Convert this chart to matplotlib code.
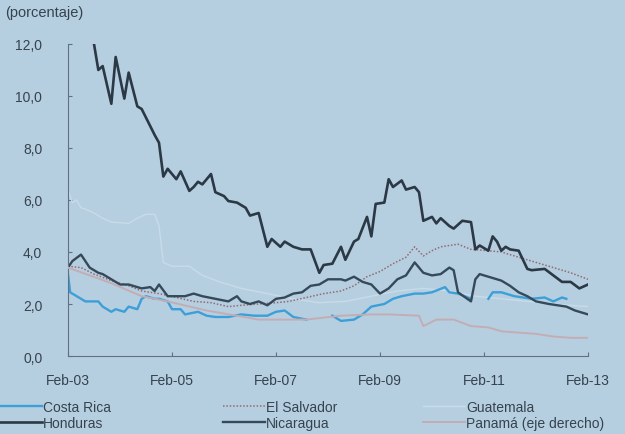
import numpy as np
import matplotlib.pyplot as plt

nan = np.nan

# months counted from Feb-03
tick_months = [0, 24, 48, 72, 96, 120]
tick_labels = ['Feb-03', 'Feb-05', 'Feb-07', 'Feb-09', 'Feb-11', 'Feb-13']
y_ticks = [0, 2, 4, 6, 8, 10, 12]

honduras_m = [6, 7, 8, 10, 11, 13, 14, 16, 17, 20, 21, 22, 23, 25, 26, 28, 29, 30, 31, 33, 34, 36, 37,
              39, 41, 42, 44, 46, 47, 49, 50, 52, 54, 56, 58, 59, 61, 63, 64, 66, 67, 69, 70, 71, 73, 74,
              75, 77, 78, 80, 81, 82, 84, 85, 86, 88, 89, 91, 93, 94, 95, 97, 98, 99, 100, 101, 102, 104,
              106, 107, 110, 112, 114, 116, 118, 120]
honduras_v = [12.0, 11.0, 11.15, 9.7, 11.5, 9.9, 10.9, 9.6, 9.5, 8.5, 8.2, 6.9, 7.2, 6.8, 7.1, 6.35, 6.5,
              6.7, 6.6, 7.0, 6.3, 6.15, 5.96, 5.9, 5.7, 5.4, 5.5, 4.2, 4.5, 4.2, 4.4, 4.2, 4.1, 4.1, 3.2,
              3.5, 3.55, 4.2, 3.7, 4.4, 4.5, 5.35, 4.6, 5.85, 5.9, 6.8, 6.5, 6.75, 6.4, 6.5, 6.3, 5.2,
              5.35, 5.1, 5.3, 5.0, 4.9, 5.2, 5.15, 4.1, 4.25, 4.05, 4.6, 4.4, 4.05, 4.2, 4.1, 4.05, 3.35,
              3.3, 3.35, 3.1, 2.85, 2.85, 2.6, 2.75]

nicaragua_m = [0, 1, 3, 5, 7, 8, 10, 12, 14, 16, 17, 19, 20, 21, 23, 24, 27, 29, 31, 34, 37, 39, 40, 42,
               44, 46, 48, 50, 52, 54, 56, 58, 60, 63, 64, 66, 68, 70, 72, 74, 76, 78, 80, 81, 82, 84,
               86, 88, 89, 90, 93, 94, 95, 97, 100, 102, 104, 106, 108, 111, 113, 115, 117, 120]
nicaragua_v = [3.4, 3.65, 3.9, 3.4, 3.2, 3.15, 2.95, 2.75, 2.75, 2.65, 2.6, 2.65, 2.5, 2.75, 2.3, 2.3,
               2.3, 2.4, 2.3, 2.2, 2.1, 2.3, 2.1, 2.0, 2.1, 1.95, 2.2, 2.25, 2.4, 2.45, 2.7, 2.75, 2.95,
               2.95, 2.9, 3.05, 2.85, 2.75, 2.4, 2.6, 2.95, 3.1, 3.6, 3.4, 3.2, 3.1, 3.15, 3.4, 3.3,
               2.45, 2.1, 2.95, 3.15, 3.05, 2.9, 2.7, 2.45, 2.3, 2.1, 2.0, 1.95, 1.9, 1.75, 1.6]

costa_rica_m = [0, 0.5, 2, 4, 7, 8, 10, 11, 13, 14, 16, 17, 18, 20, 21, 23, 24, 26, 27, 30, 32, 34, 37,
                40, 43, 46, 48, 50, 52, 55, 58, 61, 63, 66, 68, 70, 73, 75, 77, 80, 82, 84, 87, 88, 90,
                93, 95, 97, 98, 100, 103, 105, 107, 110, 112, 114, 115]
costa_rica_v = [3.15, 2.45, 2.3, 2.1, 2.1, 1.9, 1.7, 1.8, 1.7, 1.9, 1.8, 2.2, 2.3, 2.2, 2.2, 2.1, 1.8,
                1.8, 1.6, 1.7, 1.55, 1.5, 1.5, 1.6, 1.55, 1.55, 1.7, 1.75, 1.5, 1.4, nan, 1.55, 1.35,
                1.4, 1.6, 1.9, 2.0, 2.2, 2.3, 2.4, 2.4, 2.45, 2.65, 2.45, 2.4, 2.2, nan, 2.2, 2.45,
                2.45, 2.3, 2.25, 2.2, 2.25, 2.1, 2.25, 2.2]

el_salvador_m = [0, 3, 6, 10, 14, 17, 21, 25, 29, 33, 37, 40, 44, 48, 51, 55, 59, 63, 66, 69, 72, 75,
                 78, 80, 82, 84, 86, 88, 90, 93, 97, 100, 104, 108, 112, 116, 120]
el_salvador_v = [3.45, 3.4, 3.15, 2.9, 2.7, 2.5, 2.4, 2.25, 2.1, 2.05, 1.9, 1.95, 2.0, 2.05, 2.1, 2.25,
                 2.4, 2.5, 2.7, 3.05, 3.25, 3.55, 3.8, 4.2, 3.85, 4.05, 4.2, 4.25, 4.3, 4.1, 4.05, 4.0,
                 3.8, 3.6, 3.4, 3.2, 2.95]

guatemala_m = [0, 1, 2, 3, 4, 6, 8, 10, 14, 16, 18, 20, 21, 22, 24, 28, 31, 35, 40, 46, 52, 58, 64, 70,
               76, 82, 88, 94, 100, 106, 112, 120]
guatemala_v = [6.4, 5.9, 6.0, 5.7, 5.65, 5.5, 5.3, 5.15, 5.1, 5.3, 5.45, 5.45, 5.0, 3.6, 3.45, 3.45,
               3.1, 2.85, 2.6, 2.4, 2.2, 2.05, 2.1, 2.3, 2.5, 2.6, 2.5, 2.3, 2.2, 2.1, 2.0, 1.9]

panama_m = [0, 5, 10, 17, 23, 32, 44, 55, 63, 70, 74, 81, 82, 85, 89, 93, 97, 100, 104, 108, 112, 116, 120]
panama_v = [3.4, 3.1, 2.8, 2.3, 2.1, 1.75, 1.4, 1.4, 1.55, 1.6, 1.6, 1.55, 1.15, 1.4, 1.4, 1.15, 1.1,
            0.95, 0.9, 0.85, 0.75, 0.7, 0.7]

bg = '#b6cfe0'
txt = '#36434f'
axis_col = '#5f7282'

plt.rcParams['font.family'] = ['Liberation Sans', 'DejaVu Sans']

fig = plt.figure(figsize=(6.25, 4.35), dpi=100, facecolor=bg)
ax1 = fig.add_axes([0.1088, 0.1793, 0.832, 0.7173], facecolor=bg)
ax2 = ax1.twinx()   # right axis for Panama, no labels shown

ln_gt, = ax1.plot(guatemala_m, guatemala_v, color='#c8dbe8', lw=1.0, label='Guatemala')
ln_pa, = ax2.plot(panama_m, panama_v, color='#c3adb5', lw=1.4, label='Panamá (eje derecho)')
ln_sv, = ax1.plot(el_salvador_m, el_salvador_v, color='#936a75', lw=1.1, ls=(0, (1, 1.2)), label='El Salvador')
ln_cr, = ax1.plot(costa_rica_m, costa_rica_v, color='#3d9fd8', lw=1.7, label='Costa Rica')
ln_ni, = ax1.plot(nicaragua_m, nicaragua_v, color='#34495a', lw=1.7, label='Nicaragua')
ln_hn, = ax1.plot(honduras_m, honduras_v, color='#2b3845', lw=1.9, label='Honduras')

for a in (ax1, ax2):
    a.set_xlim(0, 120)
    a.set_ylim(0, 12)
    for s in a.spines.values():
        s.set_visible(False)
ax2.set_yticks([])
ax2.patch.set_visible(False)

ax1.spines['left'].set_visible(True)
ax1.spines['bottom'].set_visible(True)
ax1.spines['left'].set_color(axis_col)
ax1.spines['bottom'].set_color(axis_col)

ax1.set_xticks(tick_months)
ax1.set_xticklabels(tick_labels)
ax1.set_yticks(y_ticks)
ax1.yaxis.set_major_formatter(plt.FuncFormatter(lambda v, p: ('%.1f' % v).replace('.', ',')))
ax1.tick_params(axis='both', direction='in', length=3, color=axis_col, labelcolor=txt, labelsize=10)
ax1.tick_params(axis='y', pad=18.5)
ax1.tick_params(axis='x', pad=12)

fig.text(0.008, 0.970, '(porcentaje)', fontsize=10.5, color=txt, ha='left', va='center')

# legend in three blocks of two
blocks = [([ln_cr, ln_hn], 0.0),
          ([ln_sv, ln_ni], 0.357),
          ([ln_gt, ln_pa], 0.677)]
for handles, x0 in blocks:
    fig.legend(handles=handles, loc='upper left', bbox_to_anchor=(x0, 0.078), frameon=False,
               fontsize=10, labelcolor=txt, handlelength=3.0, handletextpad=0.1,
               labelspacing=0.12, borderpad=0, borderaxespad=0)

fig.savefig('out.png', dpi=100, facecolor=bg)
